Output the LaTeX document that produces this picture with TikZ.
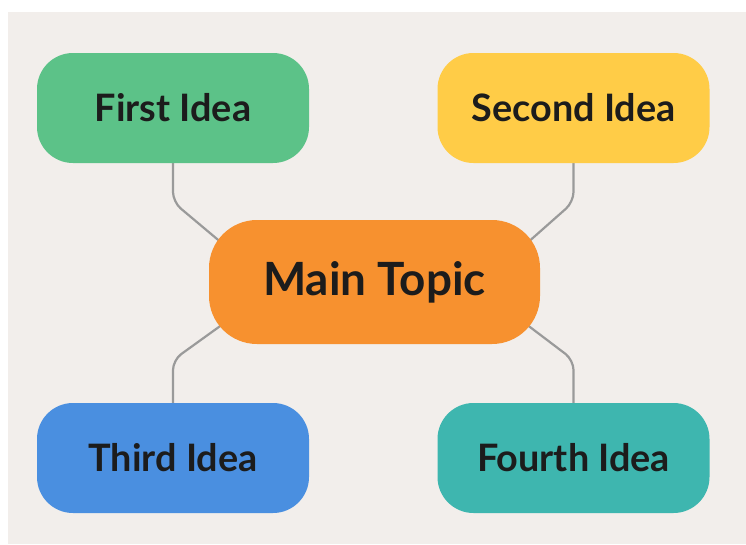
\documentclass[tikz,border=0pt]{standalone}
\usepackage{fontspec}
\setmainfont{Lato}
\usetikzlibrary{backgrounds}
\definecolor{bgbeige}{HTML}{F2EEEB}
\definecolor{ideagreen}{HTML}{5CC288}
\definecolor{ideayellow}{HTML}{FFCC47}
\definecolor{mainorange}{HTML}{F7912F}
\definecolor{ideablue}{HTML}{4A8FE0}
\definecolor{ideateal}{HTML}{3EB6AF}
\definecolor{conngray}{HTML}{9A9A9A}
\definecolor{textdark}{HTML}{1C1C1C}
\tikzset{
  ideabox/.style={rounded corners=36pt, minimum width=272pt, minimum height=110pt,
    inner sep=0pt, text=textdark, font=\bfseries\fontsize{37.8}{42}\selectfont},
  mainbox/.style={rounded corners=48pt, minimum width=331pt, minimum height=124pt,
    inner sep=0pt, fill=mainorange, text=textdark, font=\bfseries\fontsize{45.8}{50}\selectfont},
  conn/.style={draw=conngray, line width=2.2pt, rounded corners=10pt}
}
\begin{document}
\begin{tikzpicture}[x=1pt,y=-1pt]
\useasboundingbox (0,0) rectangle (746,544);
\begin{scope}[on background layer]
\fill[white] (0,0) rectangle (746,544);
\fill[bgbeige] (8,12) rectangle (746,544);
\end{scope}
\node[ideabox, fill=ideagreen] (first) at (173,108) {First Idea};
\node[ideabox, fill=ideayellow] (second) at (573.5,108) {Second Idea};
\node[mainbox] (main) at (374.5,282) {Main Topic};
\node[ideabox, fill=ideablue] (third) at (173,458) {Third Idea};
\node[ideabox, fill=ideateal] (fourth) at (573.5,458) {Fourth Idea};
\coordinate (m1) at (223,244);
\coordinate (m2) at (526,244);
\coordinate (m3) at (223,324);
\coordinate (m4) at (526,324);
\coordinate (b1) at (173,202);
\coordinate (b2) at (573.5,202);
\coordinate (b3) at (173,360);
\coordinate (b4) at (573.5,360);
\begin{scope}[on background layer]
\draw[conn] (first.south) -- (b1) -- (m1);
\draw[conn] (second.south) -- (b2) -- (m2);
\draw[conn] (m3) -- (b3) -- (third.north);
\draw[conn] (m4) -- (b4) -- (fourth.north);
\end{scope}
\end{tikzpicture}
\end{document}
